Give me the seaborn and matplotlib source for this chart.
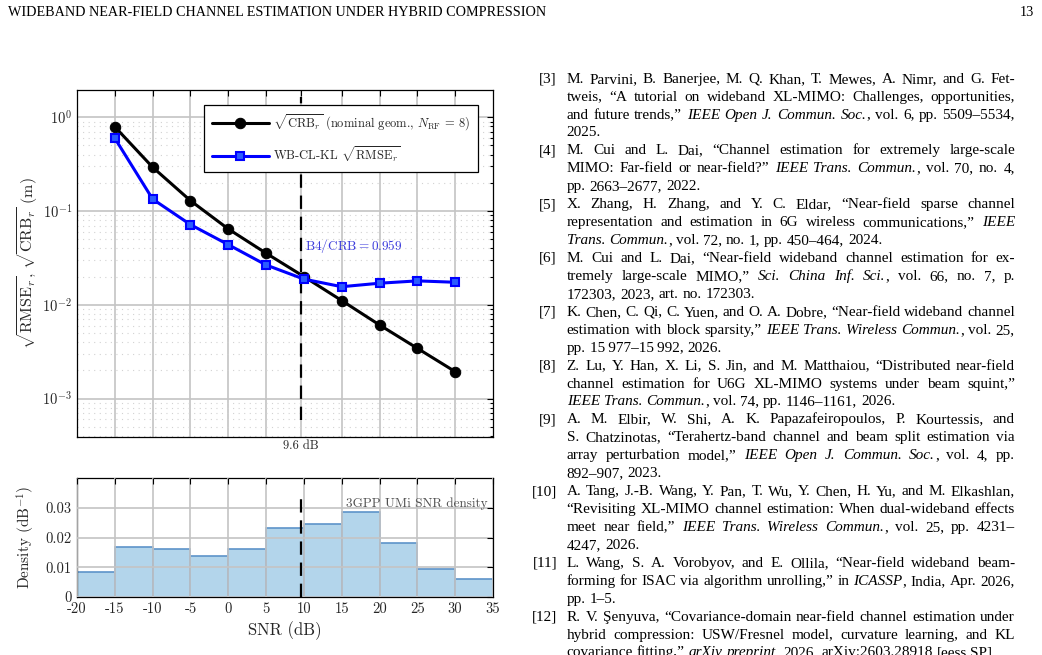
import numpy as np
import pandas as pd
import seaborn as sns
import matplotlib
matplotlib.use('Agg')
import matplotlib.pyplot as plt

# ---- data ----
snr_db = [-15, -10, -5, 0, 5, 10, 15, 20, 25, 30]
crb_r = [0.79, 0.293, 0.129, 0.0644, 0.0355, 0.0200, 0.0111, 0.0061, 0.00344, 0.00194]
rmse_r = [0.597, 0.134, 0.0716, 0.0438, 0.0266, 0.0188, 0.0156, 0.0170, 0.0180, 0.0174]
snr_knee = 9.6
ratio_b4 = 0.959

bin_edges = [-20, -15, -10, -5, 0, 5, 10, 15, 20, 25, 30, 35]
snr_density = [0.0084, 0.0168, 0.0162, 0.0137, 0.0163, 0.0233, 0.0247, 0.0286, 0.0181, 0.0094, 0.0061]

xticks_top = [-15, -10, -5, 0, 5, snr_knee, 15, 20, 25, 30]
xticks_bottom = [-20, -15, -10, -5, 0, 5, 10, 15, 20, 25, 30, 35]
yticks_bottom = [0, 0.01, 0.02, 0.03]
ytick_labels_bottom = ['0', '0.01', '0.02', '0.03']

header_left = 'WIDEBAND NEAR-FIELD CHANNEL ESTIMATION UNDER HYBRID COMPRESSION'
header_right = '13'

# references: *...* marks italic text
references = [
    ('[3]', ['M. Parvini, B. Banerjee, M. Q. Khan, T. Mewes, A. Nimr, and G. Fet-',
             'tweis, “A tutorial on wideband XL-MIMO: Challenges, opportunities,',
             'and future trends,” *IEEE Open J. Commun. Soc.*, vol. 6, pp. 5509–5534,',
             '2025.']),
    ('[4]', ['M. Cui and L. Dai, “Channel estimation for extremely large-scale',
             'MIMO: Far-field or near-field?” *IEEE Trans. Commun.*, vol. 70, no. 4,',
             'pp. 2663–2677, 2022.']),
    ('[5]', ['X. Zhang, H. Zhang, and Y. C. Eldar, “Near-field sparse channel',
             'representation and estimation in 6G wireless communications,” *IEEE*',
             '*Trans. Commun.*, vol. 72, no. 1, pp. 450–464, 2024.']),
    ('[6]', ['M. Cui and L. Dai, “Near-field wideband channel estimation for ex-',
             'tremely large-scale MIMO,” *Sci. China Inf. Sci.*, vol. 66, no. 7, p.',
             '172303, 2023, art. no. 172303.']),
    ('[7]', ['K. Chen, C. Qi, C. Yuen, and O. A. Dobre, “Near-field wideband channel',
             'estimation with block sparsity,” *IEEE Trans. Wireless Commun.*, vol. 25,',
             'pp. 15\u2009977–15\u2009992, 2026.']),
    ('[8]', ['Z. Lu, Y. Han, X. Li, S. Jin, and M. Matthaiou, “Distributed near-field',
             'channel estimation for U6G XL-MIMO systems under beam squint,”',
             '*IEEE Trans. Commun.*, vol. 74, pp. 1146–1161, 2026.']),
    ('[9]', ['A. M. Elbir, W. Shi, A. K. Papazafeiropoulos, P. Kourtessis, and',
             'S. Chatzinotas, “Terahertz-band channel and beam split estimation via',
             'array perturbation model,” *IEEE Open J. Commun. Soc.*, vol. 4, pp.',
             '892–907, 2023.']),
    ('[10]', ['A. Tang, J.-B. Wang, Y. Pan, T. Wu, Y. Chen, H. Yu, and M. Elkashlan,',
              '“Revisiting XL-MIMO channel estimation: When dual-wideband effects',
              'meet near field,” *IEEE Trans. Wireless Commun.*, vol. 25, pp. 4231–',
              '4247, 2026.']),
    ('[11]', ['L. Wang, S. A. Vorobyov, and E. Ollila, “Near-field wideband beam-',
              'forming for ISAC via algorithm unrolling,” in *ICASSP*, India, Apr. 2026,',
              'pp. 1–5.']),
    ('[12]', ['R. V. Şenyuva, “Covariance-domain near-field channel estimation under',
              'hybrid compression: USW/Fresnel model, curvature learning, and KL',
              'covariance fitting,” *arXiv preprint*, 2026, arXiv:2603.28918 [eess.SP].']),
]

# ---- style ----
sns.set_style('white')
plt.rcParams['font.family'] = 'cmr10'
plt.rcParams['mathtext.fontset'] = 'cm'
plt.rcParams['axes.unicode_minus'] = False
plt.rcParams['axes.formatter.use_mathtext'] = True
txt_col = '#262626'
grid_col = '#c4c4c4'

W, H = 1042, 655
fig = plt.figure(figsize=(W / 100, H / 100), dpi=100)


def px_rect(x0, y0, x1, y1):
    return [x0 / W, 1 - y1 / H, (x1 - x0) / W, (y1 - y0) / H]


ax1 = fig.add_axes(px_rect(77, 90, 493, 437))
ax2 = fig.add_axes(px_rect(77, 478, 493, 597))

# ---- top panel: CRB vs RMSE ----
df = pd.DataFrame({'snr': snr_db, 'crb': crb_r, 'rmse': rmse_r})
sns.lineplot(data=df, x='snr', y='crb', ax=ax1, color='black', linewidth=2.2,
             marker='o', markersize=7.5, markeredgecolor='black', markerfacecolor='black',
             label=r'$\sqrt{\mathrm{CRB}_r}$ (nominal geom., $N_{\mathrm{RF}}\,=\,8$)', zorder=4)
sns.lineplot(data=df, x='snr', y='rmse', ax=ax1, color='blue', linewidth=2.2,
             marker='s', markersize=5.5, markeredgecolor='blue', markerfacecolor='#2a5cff',
             markeredgewidth=1.5,
             label=r'WB-CL-KL $\sqrt{\mathrm{RMSE}_r}$', zorder=4)
ax1.set_yscale('log')
ax1.set_xlim(-20, 35)
ax1.set_ylim(3.9e-4, 1.95)
ax1.axvline(snr_knee, ymin=0.049, ymax=0.98, color='black', lw=1.6, ls=(0, (6, 3.5)), zorder=3)
ax1.set_xticks(xticks_top, labels=['9.6 dB' if t == snr_knee else '' for t in xticks_top])
ax1.grid(True, which='major', color=grid_col, lw=1.2)
ax1.yaxis.grid(True, which='minor', color='#d2d2d2', lw=0.8, ls=(0, (1, 4)))
ax1.set_xlabel('')
ax1.set_ylabel(r'$\sqrt{\mathrm{RMSE}_r}$, $\sqrt{\mathrm{CRB}_r}$ (m)', fontsize=11.5, color=txt_col)
ax1.yaxis.set_label_coords(-0.09, 0.5)
ax1.text(10.2, 0.0425, 'B4/CRB$=$' + f'{ratio_b4:.3f}', color='#3b3bdc', fontsize=9.5,
         ha='left', va='center')
ax1.tick_params(axis='x', which='major', pad=2, labelsize=9)
ax1.tick_params(axis='y', which='major', labelsize=10.5)
leg = ax1.legend(loc='upper right', bbox_to_anchor=(0.964, 0.957), borderaxespad=0,
                 fontsize=9, handlelength=4.6, handletextpad=0.35, labelspacing=0.95,
                 borderpad=0.6, fancybox=False, framealpha=1, edgecolor='black')
leg.get_frame().set_linewidth(0.9)
for t in leg.get_texts():
    t.set_color(txt_col)

# ---- bottom panel: SNR density ----
hist_df = pd.DataFrame({'snr': np.array(bin_edges[:-1]) + 2.5, 'density': snr_density})
sns.histplot(data=hist_df, x='snr', weights='density', bins=bin_edges, ax=ax2,
             color='#b3d5eb', alpha=1, edgecolor='#5d93c9', linewidth=1.2)
ax2.set_xlim(-20, 35)
ax2.set_ylim(0, 0.04)
ax2.axvline(snr_knee, ymin=0, ymax=0.82, color='black', lw=1.6, ls=(0, (6, 3.5)), zorder=3)
ax2.set_xticks(xticks_bottom, labels=[str(t) for t in xticks_bottom])
ax2.set_yticks(yticks_bottom, labels=ytick_labels_bottom)
ax2.grid(True, which='major', color=grid_col, lw=1.2)
ax2.set_axisbelow(False)
ax2.set_xlabel('SNR (dB)', fontsize=12, color=txt_col)
ax2.set_ylabel(r'Density (dB$^{-1}$)', fontsize=11, color=txt_col)
ax2.xaxis.set_label_coords(0.5, -0.2)
ax2.yaxis.set_label_coords(-0.095, 0.5)
ax2.text(0.988, 0.785, '3GPP UMi SNR density', transform=ax2.transAxes, ha='right',
         va='center', fontsize=9.5, color='#505050')
ax2.tick_params(axis='both', which='major', labelsize=10.5, pad=4)

for ax in (ax1, ax2):
    ax.tick_params(which='both', direction='in', top=True, right=True, colors='black',
                   labelcolor=txt_col, width=0.8)
    ax.tick_params(which='major', length=4)
    ax.tick_params(which='minor', length=2)
    for s in ax.spines.values():
        s.set_color('black')
        s.set_linewidth(0.9)

# ---- page text ----
renderer = fig.canvas.get_renderer()
serif = 'Liberation Serif'


def put(x, y, s, **kw):
    return fig.text(x / W, 1 - y / H, s, family=serif, va='baseline', color='black', **kw)


def width(t):
    return t.get_window_extent(renderer=renderer).width


def measure(s, fs, style='normal'):
    t = put(0, 300, s, fontsize=fs, style=style)
    w = width(t)
    t.remove()
    return w


# header fitted to its width in the page
h = put(8, 16, header_left, fontsize=10)
h.set_fontsize(10 * 535 / width(h))
put(1034, 16, header_right, fontsize=h.get_fontsize(), ha='right')

x_lab, x_left, x_right = 557, 566.7, 1015
base0, step = 82.7, 17.93


def groups_of(line):
    groups = [[]]
    for k, chunk in enumerate(line.split('*')):
        style = 'italic' if k % 2 else 'normal'
        for j, p in enumerate(chunk.split(' ')):
            if j > 0:
                groups.append([])
            if p:
                groups[-1].append((p, style))
    return [g for g in groups if g]


# pick the font size so the tightest justified line fits with slightly shrunk spaces
fs0 = 10.0
sp0 = measure('x x', fs0) - measure('xx', fs0)
natural = []
for label, lines in references:
    for line in lines[:-1]:
        gs = groups_of(line)
        natural.append(sum(measure(p, fs0, st) for g in gs for p, st in g) + 0.85 * sp0 * (len(gs) - 1))
ref_fs = min(11.0, fs0 * (x_right - x_left) / max(natural))
space_w = measure('x x', ref_fs) - measure('xx', ref_fs)

row = 0
for label, lines in references:
    put(x_lab, base0 + row * step, label, fontsize=ref_fs, ha='right')
    for li, line in enumerate(lines):
        y = base0 + row * step
        placed = []
        for g in groups_of(line):
            items = []
            for p, style in g:
                t = put(0, y, p, fontsize=ref_fs, style=style)
                items.append((t, width(t)))
            placed.append(items)
        gw = [sum(w for _, w in items) for items in placed]
        if li == len(lines) - 1 or len(placed) < 2:
            gap = space_w
        else:
            gap = (x_right - x_left - sum(gw)) / (len(placed) - 1)
        x = x_left
        for items, w in zip(placed, gw):
            xx = x
            for t, tw in items:
                t.set_x(xx / W)
                xx += tw
            x += w + gap
        row += 1

fig.savefig('out.png', dpi=100)
